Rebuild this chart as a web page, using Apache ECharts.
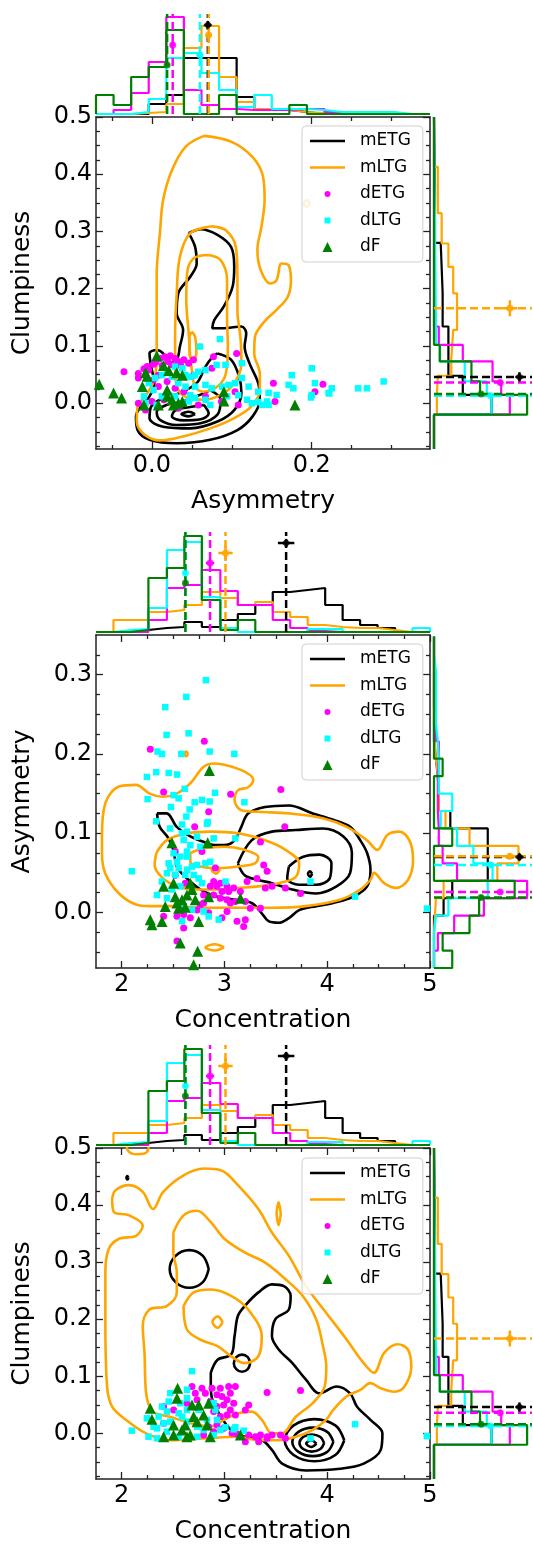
<!DOCTYPE html>
<html><head><meta charset="utf-8">
<script src="https://cdn.jsdelivr.net/npm/echarts/dist/echarts.min.js"></script>
<style>html,body{margin:0;padding:0;background:#fff}#c{width:533px;height:1547px}</style>
</head><body><div id="c"></div>
<script>
// ---------------- DATA ----------------
const GROUPS = ['mETG','mLTG','dETG','dLTG','dF'];

// axis limits and tick labels
const asymLim = [-0.07, 0.348];
const asymLimY = [-0.07, 0.35];
const concLim = [1.75, 5];
const clumpLim = [-0.08, 0.5];
const asymTicksMajor = [0.0, 0.2];
const asymTicksMinor = [-0.05, 0.05, 0.1, 0.15, 0.25, 0.3];
const asymYTicksMajor = [0.0, 0.1, 0.2, 0.3];
const asymYTicksMinor = [-0.05,-0.025,0.025,0.05,0.075,0.125,0.15,0.175,0.225,0.25,0.275,0.325];
const concTicksMajor = [2, 3, 4, 5];
const concTicksMinor = [2.25,2.5,2.75,3.25,3.5,3.75,4.25,4.5,4.75];
const clumpTicksMajor = [0.0, 0.1, 0.2, 0.3, 0.4, 0.5];
const clumpTicksMinor = [-0.075,-0.05,-0.025,0.025,0.05,0.075,0.125,0.15,0.175,0.225,0.25,0.275,0.325,0.35,0.375,0.425,0.45,0.475];

// group means (order of GROUPS)
const concMean  = [3.60, 3.01, 2.86, 2.62, 2.62];
const concErr   = [0.08, 0.07, 0.04, 0.02, 0.02];
const asymMean  = [0.070, 0.071, 0.026, 0.060, 0.019];
const asymErr   = [0.004, 0.004, 0.003, 0.004, 0.003];
const clumpMean = [0.046, 0.166, 0.036, 0.013, 0.016];
const clumpErr  = [0.008, 0.014, 0.005, 0.003, 0.003];
const meanLevel = [89, 79, 69, 59, 49];
const meanLevelErr = [4, 8, 3, 2, 2];

// histograms (normalised heights)
const asymEdges = [-0.07,-0.048,-0.026,-0.004,0.018,0.04,0.062,0.084,0.106,0.128,0.15,0.172,0.194,0.216,0.238,0.26,0.282,0.304,0.326,0.348];
const asymHist_mETG = [0,0,0,10,19,56,56,56,17,5,4,2,0,0,0,0,0,0,0];
const asymHist_mLTG = [0,0,1,2,10,66,88,37,12,5,4,2,1,0,0,0,0,0,0];
const asymHist_dETG = [0,4,21,52,97,24,9,5,4,4,4,5,5,2,0,0,0,0,0];
const asymHist_dLTG = [0,0,2,15,56,61,41,24,7,19,5,5,4,2,2,2,2,0,0];
const asymHist_dF   = [19,9,37,47,84,0,0,19,0,0,0,9,0,0,0,0,0,0,0];

const concEdges = [1.75,1.92,2.09,2.26,2.44,2.61,2.78,2.96,3.13,3.30,3.47,3.64,3.81,3.98,4.15,4.32,4.49,4.66,4.83,5.0];
const concHist_mETG = [0,0,2,4,5,10,5,12,18,27,40,42,44,27,12,7,4,0,0];
const concHist_mLTG = [0,12,12,20,22,27,40,34,27,30,20,15,7,5,4,4,2,0,0];
const concHist_dETG = [0,0,0,12,44,47,62,41,27,27,12,4,1,0,0,0,0,0,0];
const concHist_dLTG = [0,2,3,24,82,90,35,4,0,0,0,0,3,3,0,0,0,0,4];
const concHist_dF   = [0,0,2,54,64,96,32,2,12,0,0,0,0,0,0,0,0,0,0];

const clumpEdges_mETG = [-0.08,-0.02,0.0145,0.048,0.134,0.192,0.28,0.384,0.5];
const clumpHist_mETG  = [0,60,30,15,9,7,1,0];
const clumpEdges_mLTG = [-0.08,-0.02,0.0145,0.048,0.077,0.128,0.192,0.238,0.279,0.332,0.413,0.5];
const clumpHist_mLTG  = [0,3,4,18,20,24,20,15,8,4,0];
const clumpEdges_dETG = [-0.08,-0.02,0.0145,0.038,0.073,0.102,0.134,0.5];
const clumpHist_dETG  = [0,79,70,61,30,5,0];
const clumpEdges_dLTG = [-0.08,-0.02,0.0145,0.038,0.073,0.102,0.134,0.5];
const clumpHist_dLTG  = [0,60,55,32,6,2,0];
const clumpEdges_dF   = [-0.08,-0.02,0.0145,0.038,0.073,0.102,0.5];
const clumpHist_dF    = [0,97,48,39,6,0];

// Panel 1: Asymmetry (x) vs Clumpiness (y) scatter
const p1_dETG = [[-0.035,0.055],[-0.017,0.052],[-0.017,0.044],[-0.006,0.064],[-0.004,0.058],[0.002,0.068],[0.010,0.078],[0.016,0.081],[0.023,0.083],[0.029,0.078],[0.025,0.067],[0.033,0.073],[0.040,0.076],[0.046,0.070],[0.052,0.076],[0.008,0.049],[0.002,0.041],[0.008,0.029],[0.019,0.038],[0.029,0.026],[0.040,0.020],[0.052,0.049],[0.077,0.081],[0.075,0.061],[0.106,0.087],[0.108,-0.003],[0.152,0.035],[0.154,0.003],[0.204,0.020],[0.214,0.033],[0.015,0.006],[-0.008,-0.012],[-0.017,0.000],[0.000,0.003],[0.033,-0.009],[0.058,-0.003],[0.067,0.012],[0.087,0.003],[0.104,0.020],[0.005,0.072],[0.013,0.066],[0.020,0.073],[0.036,0.066],[-0.010,0.060]];
const p1_dLTG = [[0.085,0.112],[0.060,0.099],[0.1125,0.070],[0.092,0.067],[0.081,0.067],[0.067,0.058],[0.058,0.055],[0.054,0.049],[0.048,0.046],[0.042,0.049],[0.038,0.061],[0.029,0.064],[0.025,0.046],[0.019,0.055],[0.0125,0.049],[0.004,0.044],[-0.004,0.035],[0.033,0.035],[0.042,0.029],[0.054,0.029],[0.067,0.032],[0.075,0.026],[0.088,0.029],[0.096,0.032],[0.104,0.035],[0.1125,0.044],[0.121,0.029],[0.133,0.020],[0.146,0.018],[0.156,0.0144],[0.171,0.032],[0.177,0.026],[0.175,0.049],[0.200,0.061],[0.204,0.035],[0.200,0.0144],[0.225,0.026],[0.221,0.018],[0.119,0.006],[0.125,0.000],[0.133,0.002],[0.138,-0.003],[0.144,0.003],[0.146,-0.003],[0.054,0.009],[0.067,0.006],[0.046,0.003],[0.038,0.000],[0.029,0.012],[0.021,0.014],[0.0125,0.012],[0.006,-0.003],[-0.008,0.000],[-0.010,0.012],[0.002,0.023],[0.073,-0.003],[0.094,0.012],[0.108,0.014],[0.048,0.014],[0.258,0.026],[0.269,0.026],[0.290,0.038],[0.199,0.010],[0.222,0.017]];
const p1_dF = [[0.006,0.083],[0.0145,0.066],[0.021,0.057],[-0.008,0.053],[-0.006,0.047],[-0.012,0.029],[0.031,0.053],[0.038,0.049],[0.019,0.023],[0.019,0.012],[0.025,0.006],[0.033,0.000],[0.038,0.003],[0.027,-0.003],[0.008,-0.003],[-0.010,-0.003],[0.090,0.020],[0.090,0.004],[0.179,-0.003],[-0.066,0.033],[-0.048,0.018],[-0.038,0.009]];

// Panel 2: Concentration (x) vs Asymmetry (y)
const p2_dETG = [[2.278,0.206],[2.804,0.216],[2.408,0.152],[3.06,0.149],[3.548,0.155],[2.846,0.127],[2.71,0.108],[3.587,0.108],[2.781,0.077],[2.911,0.056],[2.927,0.033],[2.895,0.039],[2.862,0.033],[2.96,0.037],[3.025,0.033],[3.09,0.031],[2.976,0.0265],[3.041,0.0265],[2.895,0.022],[2.96,0.018],[3.025,0.016],[3.106,0.014],[3.203,0.014],[3.252,0.0055],[3.35,0.0055],[3.057,0.012],[3.155,0.0265],[3.22,0.039],[3.317,0.043],[3.415,0.052],[3.398,0.031],[3.463,0.033],[3.593,0.031],[3.382,0.060],[3.35,0.089],[3.74,0.024],[2.797,0.012],[2.733,0.0033],[2.765,0.0097],[2.603,-0.0025],[2.668,-0.0067],[2.538,-0.0046],[2.603,-0.0197],[2.408,-0.0046],[2.538,-0.036],[2.976,-0.0067],[3.025,0.0012],[3.122,-0.011],[3.187,-0.0176],[3.203,-0.0092],[2.846,-0.0004],[2.521,0.077],[2.521,0.047],[2.619,0.037],[2.797,0.022]];
const p2_dLTG = [[2.82,0.293],[2.629,0.272],[2.424,0.259],[2.437,0.224],[2.651,0.226],[2.349,0.203],[2.392,0.200],[2.58,0.200],[2.856,0.203],[3.096,0.200],[2.245,0.171],[2.336,0.177],[2.457,0.176],[2.538,0.174],[2.613,0.156],[2.505,0.148],[2.554,0.144],[2.252,0.143],[2.479,0.133],[2.661,0.130],[2.71,0.139],[2.781,0.142],[2.856,0.140],[2.908,0.151],[3.194,0.139],[2.629,0.121],[2.336,0.115],[2.587,0.111],[2.837,0.114],[2.472,0.106],[2.587,0.100],[2.635,0.102],[2.733,0.0956],[2.83,0.112],[2.895,0.0935],[3.106,0.0935],[2.603,0.0914],[2.668,0.085],[2.765,0.083],[2.635,0.0768],[2.505,0.0747],[2.57,0.0705],[2.635,0.0705],[2.538,0.064],[2.457,0.062],[2.473,0.056],[2.554,0.056],[2.635,0.054],[2.684,0.058],[2.733,0.060],[2.814,0.062],[2.862,0.064],[2.44,0.0495],[2.521,0.0474],[2.619,0.0474],[2.70,0.0474],[2.749,0.043],[2.343,0.022],[2.44,0.018],[2.603,0.0076],[2.684,0.0033],[2.846,-0.005],[2.944,-0.009],[3.01,0.039],[2.099,0.052],[2.587,-0.011],[2.797,0.0013],[3.837,0.039],[2.392,0.039],[2.489,0.029],[2.57,0.033],[2.781,0.037],[4.27,0.020],[4.97,0.005]];
const p2_dF = [[2.853,0.179],[2.489,0.088],[2.837,0.088],[2.408,0.033],[2.505,0.037],[2.668,0.037],[2.684,0.029],[2.521,0.020],[2.635,0.022],[2.587,0.016],[2.716,0.016],[2.846,0.020],[2.424,0.0076],[2.554,0.0055],[2.619,0.0067],[2.538,0.012],[2.278,-0.009],[2.294,-0.0155],[2.392,-0.0113],[2.749,-0.0113],[2.57,-0.0385],[2.739,-0.049],[2.70,-0.066],[3.155,0.018]];

// Panel 3: Concentration (x) vs Clumpiness (y)
const p3_dETG = [[2.684,0.0822],[2.781,0.0792],[2.879,0.0792],[2.96,0.0792],[3.041,0.0822],[3.106,0.0822],[2.716,0.0704],[2.814,0.0704],[2.927,0.0675],[2.976,0.0645],[3.057,0.0704],[2.862,0.0557],[3.025,0.0587],[3.09,0.0528],[2.927,0.047],[2.992,0.0498],[3.236,0.0498],[3.203,0.0411],[3.057,0.0411],[2.96,0.0293],[3.025,0.0323],[2.927,0.0147],[2.992,0.0088],[3.074,0.0],[3.122,-0.0012],[3.236,-0.0029],[3.301,-0.0059],[3.35,-0.0029],[3.415,-0.0059],[3.463,-0.0029],[3.545,-0.0029],[3.593,-0.0088],[3.203,-0.0147],[3.333,-0.0147],[3.415,-0.0088],[3.415,0.0716],[3.74,0.0751],[3.106,0.0323],[2.895,0.0381],[2.733,0.0587],[2.635,0.0528],[2.408,0.047],[2.505,0.0411],[2.846,0.0117],[2.895,0.0029],[2.797,-0.0029],[2.408,0.0176]];
const p3_dLTG = [[2.684,0.109],[2.473,0.0704],[2.635,0.0763],[2.392,0.047],[2.457,0.0557],[2.57,0.0528],[2.635,0.0616],[2.359,0.0293],[2.245,0.0264],[2.44,0.0381],[2.554,0.0352],[2.635,0.0411],[2.749,0.0411],[2.895,0.0528],[2.911,0.0411],[2.408,0.0176],[2.31,0.0117],[2.473,0.0205],[2.635,0.0205],[2.733,0.0117],[2.797,0.0059],[2.96,0.0059],[3.009,0.0106],[3.09,0.007],[3.187,0.0047],[2.099,0.0047],[2.261,-0.0059],[2.343,-0.0088],[2.44,0.0029],[2.554,-0.0059],[2.733,-0.0059],[2.895,-0.0029],[3.106,0.0106],[3.837,-0.0088],[2.343,0.0088],[2.587,0.0293],[2.83,0.0235],[2.927,0.0235],[4.27,0.016],[4.97,-0.005]];
const p3_dF = [[2.544,0.079],[2.538,0.0616],[2.278,0.044],[2.294,0.0246],[2.684,0.0498],[2.749,0.0498],[2.846,0.0528],[2.70,0.0293],[2.797,0.0323],[2.505,0.0147],[2.619,0.0147],[2.83,0.0147],[2.408,-0.0059],[2.505,-0.0029],[2.587,0.0059],[2.635,-0.0059],[2.668,-0.0029],[2.862,-0.0059],[3.155,-0.0029],[2.733,0.0205]];

// Density contours (traced in data units)
const p1_mETG_contours = [
 [[0.046,0.297],[0.061,0.304],[0.082,0.294],[0.099,0.273],[0.103,0.239],[0.101,0.204],[0.090,0.169],[0.078,0.145],[0.0755,0.131],[0.090,0.131],[0.112,0.134],[0.118,0.122],[0.116,0.099],[0.122,0.070],[0.133,0.035],[0.135,0.006],[0.126,-0.023],[0.107,-0.047],[0.073,-0.064],[0.031,-0.070],[-0.003,-0.064],[-0.018,-0.047],[-0.020,-0.023],[-0.012,-0.003],[-0.003,0.012],[0.003,0.035],[-0.001,0.064],[-0.003,0.087],[0.006,0.093],[0.014,0.087],[0.020,0.070],[0.031,0.076],[0.035,0.099],[0.039,0.128],[0.031,0.157],[0.033,0.192],[0.048,0.221],[0.056,0.244],[0.054,0.273],[0.046,0.297]],
 [[0.082,0.087],[0.099,0.076],[0.109,0.047],[0.112,0.018],[0.103,-0.012],[0.082,-0.032],[0.048,-0.044],[0.014,-0.041],[-0.003,-0.026],[-0.001,-0.006],[0.014,0.009],[0.035,0.018],[0.056,0.035],[0.067,0.064],[0.076,0.081],[0.082,0.087]],
 [[0.073,0.023],[0.086,0.006],[0.082,-0.020],[0.061,-0.035],[0.031,-0.038],[0.010,-0.029],[0.006,-0.015],[0.018,-0.003],[0.039,0.003],[0.061,0.015],[0.073,0.023]],
 [[0.065,-0.003],[0.071,-0.018],[0.061,-0.028],[0.039,-0.030],[0.025,-0.023],[0.029,-0.013],[0.046,-0.007],[0.065,-0.003]],
 [[0.054,-0.019],[0.046,-0.015],[0.037,-0.019],[0.046,-0.023],[0.054,-0.019]]
];
const p1_mLTG_contours = [
 [[0.065,0.467],[0.099,0.457],[0.126,0.430],[0.139,0.396],[0.141,0.355],[0.137,0.308],[0.132,0.268],[0.136,0.233],[0.148,0.209],[0.156,0.215],[0.162,0.244],[0.171,0.241],[0.174,0.215],[0.170,0.186],[0.156,0.163],[0.141,0.143],[0.129,0.116],[0.128,0.087],[0.135,0.052],[0.135,0.023],[0.124,-0.006],[0.103,-0.026],[0.073,-0.044],[0.039,-0.058],[0.010,-0.065],[-0.009,-0.055],[-0.019,-0.032],[-0.018,-0.006],[-0.007,0.015],[0.003,0.041],[0.006,0.087],[0.006,0.151],[0.006,0.227],[0.010,0.297],[0.014,0.355],[0.025,0.407],[0.042,0.448],[0.065,0.467]],
 [[0.0755,0.309],[0.0925,0.302],[0.105,0.273],[0.107,0.221],[0.107,0.163],[0.111,0.111],[0.112,0.070],[0.103,0.035],[0.086,0.0145],[0.065,0.006],[0.046,0.009],[0.033,0.023],[0.029,0.058],[0.029,0.122],[0.031,0.192],[0.035,0.256],[0.048,0.297],[0.0755,0.309]],
 [[0.071,0.259],[0.086,0.250],[0.094,0.215],[0.094,0.151],[0.095,0.099],[0.0925,0.052],[0.082,0.029],[0.065,0.020],[0.054,0.029],[0.050,0.058],[0.048,0.081],[0.046,0.122],[0.043,0.180],[0.044,0.227],[0.052,0.253],[0.071,0.259]],
 [[0.050,0.125],[0.054,0.116],[0.0556,0.087],[0.051,0.0756],[0.047,0.087],[0.047,0.116],[0.050,0.125]],
 [[0.198,0.349],[0.194,0.355],[0.190,0.349],[0.194,0.343],[0.198,0.349]]
];
const p2_mETG_contours = [
 [[2.344,0.125],[2.437,0.125],[2.536,0.108],[2.668,0.096],[2.80,0.089],[2.90,0.085],[2.999,0.085],[3.098,0.091],[3.164,0.108],[3.23,0.125],[3.396,0.133],[3.627,0.135],[3.859,0.125],[4.058,0.117],[4.223,0.108],[4.322,0.091],[4.388,0.075],[4.421,0.054],[4.388,0.033],[4.256,0.020],[4.058,0.012],[3.892,0.008],[3.727,0.003],[3.627,-0.007],[3.528,-0.013],[3.429,-0.011],[3.363,-0.001],[3.264,0.012],[3.098,0.016],[2.933,0.020],[2.767,0.029],[2.619,0.045],[2.536,0.058],[2.503,0.079],[2.453,0.094],[2.37,0.108],[2.344,0.125]],
 [[3.131,0.062],[3.264,0.091],[3.462,0.102],[3.694,0.104],[3.958,0.106],[4.157,0.096],[4.24,0.075],[4.223,0.050],[4.091,0.033],[3.892,0.024],[3.661,0.029],[3.462,0.037],[3.33,0.041],[3.197,0.047],[3.131,0.062]],
 [[3.627,0.058],[3.76,0.070],[3.925,0.073],[4.041,0.062],[4.024,0.043],[3.892,0.035],[3.727,0.035],[3.611,0.043],[3.627,0.058]],
 [[3.853,0.049],[3.833,0.052],[3.813,0.049],[3.833,0.045],[3.853,0.049]]
];
const p2_mLTG_contours = [
 [[1.808,0.096],[1.841,0.138],[1.974,0.159],[2.139,0.161],[2.271,0.150],[2.404,0.146],[2.536,0.150],[2.668,0.163],[2.80,0.184],[2.90,0.188],[3.065,0.184],[3.23,0.175],[3.28,0.167],[3.23,0.158],[3.131,0.154],[3.098,0.142],[3.164,0.129],[3.33,0.127],[3.627,0.125],[3.958,0.119],[4.19,0.108],[4.388,0.091],[4.488,0.079],[4.587,0.098],[4.703,0.102],[4.80,0.091],[4.835,0.066],[4.785,0.041],[4.67,0.031],[4.554,0.037],[4.455,0.050],[4.42,0.041],[4.322,0.029],[4.124,0.016],[3.793,0.008],[3.462,0.006],[3.131,0.006],[2.80,0.006],[2.47,0.008],[2.271,0.008],[2.139,0.010],[1.974,0.024],[1.841,0.049],[1.808,0.075],[1.808,0.096]],
 [[2.337,0.075],[2.437,0.091],[2.635,0.100],[2.867,0.102],[3.131,0.100],[3.396,0.091],[3.594,0.079],[3.727,0.062],[3.694,0.045],[3.528,0.037],[3.33,0.033],[3.131,0.031],[2.933,0.029],[2.734,0.029],[2.536,0.033],[2.387,0.045],[2.321,0.060],[2.337,0.075]],
 [[2.668,0.075],[2.80,0.081],[2.999,0.083],[3.197,0.079],[3.33,0.070],[3.297,0.062],[3.131,0.058],[2.933,0.056],[2.767,0.058],[2.668,0.064],[2.668,0.075]],
 [[2.956,0.054],[2.916,0.059],[2.876,0.054],[2.916,0.049],[2.956,0.054]],
 [[2.996,-0.044],[2.906,-0.040],[2.816,-0.044],[2.906,-0.048],[2.996,-0.044]],
 [[2.645,0.200],[2.628,0.203],[2.611,0.200],[2.628,0.197],[2.645,0.200]]
];
const p3_mETG_contours = [
 [[2.867,0.106],[2.933,0.129],[3.065,0.138],[3.098,0.170],[3.131,0.206],[3.197,0.223],[3.33,0.247],[3.462,0.261],[3.578,0.258],[3.644,0.241],[3.627,0.217],[3.495,0.200],[3.462,0.170],[3.528,0.147],[3.661,0.123],[3.793,0.094],[3.925,0.070],[4.091,0.082],[4.223,0.070],[4.289,0.047],[4.421,0.0235],[4.537,0.0],[4.521,-0.029],[4.355,-0.053],[4.124,-0.062],[3.793,-0.065],[3.561,-0.053],[3.462,-0.029],[3.363,-0.0117],[3.197,-0.0059],[3.065,0.0059],[2.966,0.029],[2.883,0.0587],[2.867,0.082],[2.867,0.106]],
 [[2.847,0.288],[2.79,0.311],[2.657,0.321],[2.524,0.311],[2.467,0.288],[2.524,0.265],[2.657,0.255],[2.79,0.265],[2.847,0.288]],
 [[3.251,0.123],[3.227,0.1335],[3.171,0.138],[3.115,0.1335],[3.091,0.123],[3.115,0.1125],[3.171,0.108],[3.227,0.1125],[3.251,0.123]],
 [[4.166,-0.012],[4.079,0.014],[3.876,0.025],[3.673,0.014],[3.586,-0.012],[3.673,-0.038],[3.876,-0.049],[4.079,-0.038],[4.166,-0.012]],
 [[4.06,-0.015],[4.0,0.0025],[3.86,0.01],[3.72,0.0025],[3.66,-0.015],[3.72,-0.0325],[3.86,-0.04],[4.0,-0.0325],[4.06,-0.015]],
 [[3.97,-0.017],[3.934,-0.0065],[3.85,-0.002],[3.766,-0.0065],[3.73,-0.017],[3.766,-0.0275],[3.85,-0.032],[3.934,-0.0275],[3.97,-0.017]],
 [[3.895,-0.018],[3.845,-0.012],[3.795,-0.018],[3.845,-0.024],[3.895,-0.018]],
 [[2.066,0.448],[2.056,0.451],[2.046,0.448],[2.056,0.445],[2.066,0.448]]
];
const p3_mLTG_contours = [
 [[1.907,0.411],[1.94,0.426],[2.073,0.435],[2.205,0.423],[2.304,0.393],[2.404,0.423],[2.602,0.452],[2.80,0.464],[2.966,0.461],[3.131,0.435],[3.33,0.393],[3.462,0.352],[3.627,0.311],[3.793,0.258],[3.991,0.211],[4.19,0.164],[4.355,0.123],[4.454,0.106],[4.554,0.141],[4.686,0.156],[4.785,0.147],[4.818,0.117],[4.752,0.082],[4.653,0.073],[4.521,0.079],[4.421,0.088],[4.322,0.076],[4.19,0.065],[4.058,0.041],[3.991,0.024],[3.859,0.006],[3.694,-0.006],[3.528,-0.012],[3.33,-0.012],[3.131,-0.006],[2.80,-0.009],[2.47,-0.012],[2.238,0.0],[2.04,0.024],[1.907,0.047],[1.858,0.082],[1.841,0.200],[1.841,0.282],[1.874,0.323],[1.974,0.341],[2.139,0.346],[2.205,0.364],[2.073,0.382],[1.924,0.388],[1.907,0.411]],
 [[2.503,0.352],[2.602,0.382],[2.734,0.390],[2.867,0.370],[2.999,0.341],[3.197,0.317],[3.396,0.299],[3.594,0.270],[3.76,0.241],[3.892,0.200],[3.958,0.153],[3.991,0.117],[3.975,0.082],[3.859,0.053],[3.694,0.029],[3.561,0.0],[3.462,0.0],[3.363,0.024],[3.264,0.038],[3.131,0.035],[2.999,0.024],[2.867,0.012],[2.668,0.018],[2.47,0.029],[2.304,0.038],[2.238,0.070],[2.222,0.141],[2.205,0.188],[2.271,0.217],[2.437,0.223],[2.536,0.247],[2.536,0.282],[2.503,0.317],[2.503,0.352]],
 [[2.602,0.223],[2.701,0.247],[2.867,0.252],[3.065,0.241],[3.231,0.217],[3.363,0.170],[3.33,0.135],[3.197,0.123],[3.065,0.135],[2.933,0.153],[2.767,0.164],[2.635,0.182],[2.602,0.223]],
 [[2.983,0.195],[2.933,0.205],[2.883,0.195],[2.933,0.185],[2.983,0.195]],
 [[3.548,0.385],[3.528,0.405],[3.508,0.385],[3.528,0.365],[3.548,0.385]],
 [[2.04,0.52],[2.06,0.496],[2.15,0.489],[2.25,0.494],[2.27,0.52]]
];

// ---------------- STYLE / LAYOUT ----------------
const FONT = 'DejaVu Sans';
const AXC = '#222';
const COLOR = {mETG:'#000000', mLTG:'#ffa500', dETG:'#ff00ff', dLTG:'#00ffff', dF:'#008000'};
const SYM = {dETG:'circle', dLTG:'rect', dF:'triangle'};
const SYMSIZE = {dETG:7, dLTG:6.5, dF:11};

const asymHist = {mETG:asymHist_mETG, mLTG:asymHist_mLTG, dETG:asymHist_dETG, dLTG:asymHist_dLTG, dF:asymHist_dF};
const concHist = {mETG:concHist_mETG, mLTG:concHist_mLTG, dETG:concHist_dETG, dLTG:concHist_dLTG, dF:concHist_dF};
const clumpHist = {mETG:[clumpEdges_mETG,clumpHist_mETG], mLTG:[clumpEdges_mLTG,clumpHist_mLTG], dETG:[clumpEdges_dETG,clumpHist_dETG], dLTG:[clumpEdges_dLTG,clumpHist_dLTG], dF:[clumpEdges_dF,clumpHist_dF]};

const grids=[], xAxis=[], yAxis=[], series=[];

function addGrid(l,t,w,h){ grids.push({left:l, top:t, width:w, height:h, containLabel:false}); return grids.length-1; }

function mainAxes(gi, xr, yr, xMaj, xMin, yMaj, yMin, xFmt, yFmt, xName, yName){
  const base=(a,b)=>({gridIndex:gi, type:'value', min:a, max:b, splitLine:{show:false}, splitArea:{show:false}});
  const line={show:true, onZero:false, lineStyle:{color:AXC, width:1.5}};
  const noLine={show:false, onZero:false};
  const tick=(v,len)=>({show:true, inside:true, length:len, customValues:v, lineStyle:{color:AXC, width:1.3}});
  const lab=(v,f,m)=>({show:true, customValues:v, formatter:f, fontSize:24, color:'#000', fontFamily:FONT, margin:m});
  const nts={fontSize:25, color:'#000', fontFamily:FONT};
  const xi=xAxis.length;
  xAxis.push(Object.assign(base(xr[0],xr[1]),{position:'bottom', axisLine:line, axisTick:tick(xMaj,7), axisLabel:lab(xMaj,xFmt,5), name:xName, nameLocation:'middle', nameGap:40, nameTextStyle:nts}));
  xAxis.push(Object.assign(base(xr[0],xr[1]),{position:'bottom', axisLine:noLine, axisTick:tick(xMin,4), axisLabel:{show:false}}));
  xAxis.push(Object.assign(base(xr[0],xr[1]),{position:'top', axisLine:line, axisTick:tick(xMaj,7), axisLabel:{show:false}}));
  xAxis.push(Object.assign(base(xr[0],xr[1]),{position:'top', axisLine:noLine, axisTick:tick(xMin,4), axisLabel:{show:false}}));
  const yi=yAxis.length;
  yAxis.push(Object.assign(base(yr[0],yr[1]),{position:'left', axisLine:line, axisTick:tick(yMaj,7), axisLabel:lab(yMaj,yFmt,4), name:yName, nameLocation:'middle', nameRotate:90, nameGap:61, nameTextStyle:nts}));
  yAxis.push(Object.assign(base(yr[0],yr[1]),{position:'left', axisLine:noLine, axisTick:tick(yMin,4), axisLabel:{show:false}}));
  yAxis.push(Object.assign(base(yr[0],yr[1]),{position:'right', axisLine:line, axisTick:tick(yMaj,7), axisLabel:{show:false}}));
  yAxis.push(Object.assign(base(yr[0],yr[1]),{position:'right', axisLine:noLine, axisTick:tick(yMin,4), axisLabel:{show:false}}));
  return [xi, yi];
}
function histAxes(gi, xr, yr){
  const xi=xAxis.length; xAxis.push({gridIndex:gi, type:'value', min:xr[0], max:xr[1], show:false, splitLine:{show:false}});
  const yi=yAxis.length; yAxis.push({gridIndex:gi, type:'value', min:yr[0], max:yr[1], show:false, splitLine:{show:false}});
  return [xi, yi];
}
function addLine(ax, name, data, width, extra){
  series.push(Object.assign({type:'line', name:name, xAxisIndex:ax[0], yAxisIndex:ax[1], data:data, symbol:'none', showSymbol:false, silent:true, animation:false,
    itemStyle:{color:COLOR[name]}, lineStyle:{color:COLOR[name], width:width}}, extra||{}));
}
function stepPts(edges, vals, horiz){
  const pts=[[edges[0],0]];
  for(let i=0;i<vals.length;i++){ pts.push([edges[i],vals[i]],[edges[i+1],vals[i]]); }
  pts.push([edges[edges.length-1],0]);
  return horiz ? pts : pts.map(p=>[p[1],p[0]]);
}
function topHist(ax, edgesFor, valsFor){
  GROUPS.forEach(g=>addLine(ax, g, stepPts(edgesFor(g), valsFor(g), true), 2.2, {z:2}));
}
function rightHist(ax, edgesFor, valsFor){
  GROUPS.forEach(g=>addLine(ax, g, stepPts(edgesFor(g), valsFor(g), false), 2.2, {z:2}));
}
const DASH = [8,4];
function topMeans(ax, means, errs){
  GROUPS.forEach((g,i)=>{
    const m=means[i], e=errs[i], L=meanLevel[i], le=meanLevelErr[i];
    addLine(ax, g, [[m,0],[m,100]], 2.5, {clip:false, z:4, lineStyle:{color:COLOR[g], width:2.5, type:DASH}});
    addLine(ax, g, [[m-e,L],[m+e,L]], 2.5, {clip:false, z:5});
    addLine(ax, g, [[m,L-le],[m,L+le]], 2.5, {clip:false, z:5});
    series.push({type:'scatter', name:g, xAxisIndex:ax[0], yAxisIndex:ax[1], data:[[m,L]], symbol:g==='mETG'?'diamond':'circle', symbolSize:g==='mETG'?9:7, itemStyle:{color:COLOR[g]}, silent:true, z:6, animation:false, clip:false});
  });
}
function rightMeans(ax, means, errs){
  GROUPS.forEach((g,i)=>{
    const m=means[i], e=errs[i], L=meanLevel[i], le=meanLevelErr[i];
    addLine(ax, g, [[0,m],[112,m]], 2.5, {clip:false, z:4, lineStyle:{color:COLOR[g], width:2.5, type:DASH}});
    addLine(ax, g, [[L,m-e],[L,m+e]], 2.5, {clip:false, z:5});
    addLine(ax, g, [[L-le,m],[L+le,m]], 2.5, {clip:false, z:5});
    series.push({type:'scatter', name:g, xAxisIndex:ax[0], yAxisIndex:ax[1], data:[[L,m]], symbol:g==='mETG'?'diamond':'circle', symbolSize:g==='mETG'?9:7, itemStyle:{color:COLOR[g]}, silent:true, z:6, animation:false, clip:false});
  });
}
function contours(ax, name, list){ list.forEach(c=>addLine(ax, name, c, 2.6, {smooth:0.35, z:3, clip:true})); }
function scatter(ax, name, data){
  series.push({type:'scatter', name:name, xAxisIndex:ax[0], yAxisIndex:ax[1], data:data, symbol:SYM[name], symbolSize:SYMSIZE[name], itemStyle:{color:COLOR[name], opacity:1}, silent:true, z:7, animation:false});
}

const f1 = v=>v.toFixed(1);
const f0 = v=>String(Math.round(v));

// ---------- Panel 1 ----------
{
  const gm=addGrid(96,117,334,332), gt=addGrid(96,14,334,100), gr=addGrid(434,117,96,332);
  const am=mainAxes(gm, asymLim, clumpLim, asymTicksMajor, asymTicksMinor, clumpTicksMajor, clumpTicksMinor, f1, f1, 'Asymmetry', 'Clumpiness');
  const at=histAxes(gt, asymLim, [0,100]);
  const ar=histAxes(gr, [0,100], clumpLim);
  topHist(at, g=>asymEdges, g=>asymHist[g]);
  rightHist(ar, g=>clumpHist[g][0], g=>clumpHist[g][1]);
  topMeans(at, asymMean, asymErr);
  rightMeans(ar, clumpMean, clumpErr);
  contours(am, 'mETG', p1_mETG_contours);
  contours(am, 'mLTG', p1_mLTG_contours);
  scatter(am, 'dETG', p1_dETG); scatter(am, 'dLTG', p1_dLTG); scatter(am, 'dF', p1_dF);
}
// ---------- Panel 2 ----------
{
  const gm=addGrid(96,635,334,333), gt=addGrid(96,532,334,100), gr=addGrid(434,635,96,333);
  const am=mainAxes(gm, concLim, asymLimY, concTicksMajor, concTicksMinor, asymYTicksMajor, asymYTicksMinor, f0, f1, 'Concentration', 'Asymmetry');
  const at=histAxes(gt, concLim, [0,100]);
  const ar=histAxes(gr, [0,100], asymLimY);
  topHist(at, g=>concEdges, g=>concHist[g]);
  rightHist(ar, g=>asymEdges, g=>asymHist[g]);
  topMeans(at, concMean, concErr);
  rightMeans(ar, asymMean, asymErr);
  contours(am, 'mETG', p2_mETG_contours);
  contours(am, 'mLTG', p2_mLTG_contours);
  scatter(am, 'dETG', p2_dETG); scatter(am, 'dLTG', p2_dLTG); scatter(am, 'dF', p2_dF);
}
// ---------- Panel 3 ----------
{
  const gm=addGrid(96,1148,334,331), gt=addGrid(96,1045,334,100), gr=addGrid(434,1148,96,331);
  const am=mainAxes(gm, concLim, clumpLim, concTicksMajor, concTicksMinor, clumpTicksMajor, clumpTicksMinor, f0, f1, 'Concentration', 'Clumpiness');
  const at=histAxes(gt, concLim, [0,100]);
  const ar=histAxes(gr, [0,100], clumpLim);
  topHist(at, g=>concEdges, g=>concHist[g]);
  rightHist(ar, g=>clumpHist[g][0], g=>clumpHist[g][1]);
  topMeans(at, concMean, concErr);
  rightMeans(ar, clumpMean, clumpErr);
  contours(am, 'mETG', p3_mETG_contours);
  contours(am, 'mLTG', p3_mLTG_contours);
  scatter(am, 'dETG', p3_dETG); scatter(am, 'dLTG', p3_dLTG); scatter(am, 'dF', p3_dF);
}

// legend icons: 35x10 box; tiny corner specks keep the small marker centred at ~6px
const LINE_ICON = 'path://M0,0H35V2.5H0Z';
const CIRCLE_ICON = 'path://M0,0h0.01v0.01h-0.01zM10,10h-0.01v-0.01h0.01zM2,5a3,3 0 1,0 6,0a3,3 0 1,0 -6,0z';
const SQUARE_ICON = 'path://M0,0h0.01v0.01h-0.01zM10,10h-0.01v-0.01h0.01zM2,2H8V8H2z';
const TRI_ICON = 'path://M5,0L10,10H0z';
const legendData = [
  {name:'mETG', icon:LINE_ICON},
  {name:'mLTG', icon:LINE_ICON},
  {name:'dETG', icon:CIRCLE_ICON},
  {name:'dLTG', icon:SQUARE_ICON},
  {name:'dF', icon:TRI_ICON}
];
function legendAt(top){
  return {orient:'vertical', left:302, top:top, itemWidth:35, itemHeight:10, itemGap:8.5, selectedMode:false,
    padding:[6,12,6,8], backgroundColor:'rgba(255,255,255,0.85)', borderColor:'#d0d0d0', borderWidth:1, borderRadius:4,
    textStyle:{fontSize:17, color:'#000', fontFamily:FONT, lineHeight:18, padding:[0,0,0,10]}, data:legendData};
}

const chart = echarts.init(document.getElementById('c'), null, {renderer:'canvas'});
chart.setOption({
  animation:false,
  backgroundColor:'#ffffff',
  textStyle:{fontFamily:FONT},
  grid:grids, xAxis:xAxis, yAxis:yAxis,
  legend:[legendAt(126), legendAt(644), legendAt(1158)],
  series:series
});
</script></body></html>
